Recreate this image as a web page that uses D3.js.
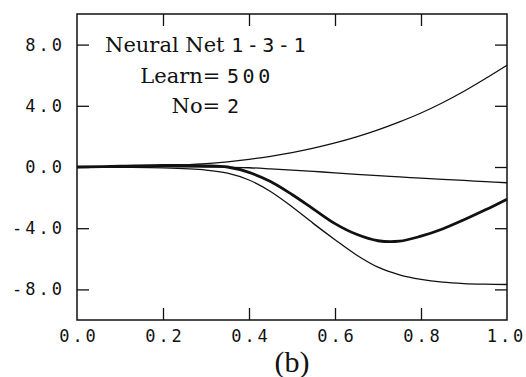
<!DOCTYPE html>
<html>
<head>
<meta charset="utf-8">
<script src="https://cdn.jsdelivr.net/npm/d3@7"></script>
<style>
  body { margin: 0; background: #fff; }
  .axis text { font-family: "DejaVu Sans Mono", monospace; font-size: 17px; letter-spacing: 3px; fill: #111; }
  .axis line { stroke: #111; stroke-width: 1.3; }
  .curve { fill: none; stroke: #111; }
</style>
</head>
<body>
<div id="chart"></div>
<script>
// sample points along x
var x_points      = [0, 0.1, 0.2, 0.3, 0.35, 0.4, 0.45, 0.5, 0.55, 0.6, 0.65, 0.7, 0.75, 0.8, 0.85, 0.9, 0.95, 1.0];
var upper_values  = [0, 0.02, 0.08, 0.22, 0.34, 0.5, 0.7, 0.94, 1.23, 1.57, 1.97, 2.43, 2.95, 3.53, 4.2, 4.95, 5.78, 6.65];
var middle_values = [0, 0.01, 0.02, 0, -0.02, -0.05, -0.12, -0.2, -0.29, -0.38, -0.48, -0.57, -0.65, -0.73, -0.81, -0.88, -0.96, -1.03];
var thick_values  = [0, 0.05, 0.1, 0.08, 0.0, -0.35, -0.95, -1.8, -2.75, -3.7, -4.4, -4.82, -4.85, -4.52, -4.05, -3.45, -2.8, -2.1];
var lower_values  = [0, -0.02, -0.06, -0.2, -0.4, -0.85, -1.6, -2.6, -3.7, -4.75, -5.75, -6.55, -7.05, -7.35, -7.53, -7.62, -7.66, -7.68];
var x_ticks       = [0, 0.2, 0.4, 0.6, 0.8, 1.0];
var y_ticks       = [-8, -4, 0, 4, 8];
var title_lines   = [["Neural Net ", "1-3-1"], ["Learn= ", "500"], ["No= ", "2"]];
var panel_label   = "(b)";

var width = 526, height = 377;
var margin = {top: 14, right: 19, bottom: 57, left: 77};
var plot_w = width - margin.left - margin.right;
var plot_h = height - margin.top - margin.bottom;

var x = d3.scaleLinear().domain([0, 1]).range([0, plot_w]);
var y = d3.scaleLinear().domain([-10, 10]).range([plot_h, 0]);

var fmt = function (d) { return d3.format(".1f")(d).replace("\u2212", "-"); };

var svg = d3.select("#chart").append("svg")
  .attr("width", width)
  .attr("height", height);

var g = svg.append("g")
  .attr("transform", "translate(" + margin.left + "," + margin.top + ")");

// inward ticks on all four sides
g.append("g").attr("class", "axis")
  .call(d3.axisLeft(y).tickValues(y_ticks).tickSize(-12).tickPadding(12).tickFormat(fmt));
g.append("g").attr("class", "axis")
  .attr("transform", "translate(" + plot_w + ",0)")
  .call(d3.axisRight(y).tickValues(y_ticks).tickSize(-12).tickFormat(""));
var bottom_axis = g.append("g").attr("class", "axis")
  .attr("transform", "translate(0," + plot_h + ")")
  .call(d3.axisBottom(x).tickValues(x_ticks).tickSize(-12).tickFormat(fmt));
g.append("g").attr("class", "axis")
  .call(d3.axisTop(x).tickValues(x_ticks.slice(1, -1)).tickSize(-12).tickFormat(""));

g.selectAll(".axis .domain").remove();
bottom_axis.selectAll(".tick line").filter(function (d) { return d === 0 || d === 1; }).remove();
bottom_axis.selectAll("text")
  .attr("y", 22)
  .attr("dy", null)
  .attr("dx", function (d) { return d === 1 ? "-1px" : "1.5px"; });

g.append("rect")
  .attr("width", plot_w)
  .attr("height", plot_h)
  .attr("fill", "none")
  .attr("stroke", "#111")
  .attr("stroke-width", 1.5);

var line = d3.line()
  .curve(d3.curveCatmullRom.alpha(0.5))
  .x(function (d, i) { return x(x_points[i]); })
  .y(function (d) { return y(d); });

[upper_values, middle_values, lower_values].forEach(function (vals) {
  g.append("path").attr("class", "curve").attr("stroke-width", 1.3).attr("d", line(vals));
});
g.append("path").attr("class", "curve").attr("stroke-width", 2.8).attr("d", line(thick_values));

// annotation block
var note = svg.append("text")
  .attr("text-anchor", "middle")
  .attr("fill", "#111");
title_lines.forEach(function (parts, i) {
  var t = note.append("tspan").attr("x", 207).attr("y", 52 + i * 30.5);
  t.append("tspan").attr("font-family", "DejaVu Serif").attr("font-size", "21px").text(parts[0]);
  t.append("tspan").attr("font-family", "DejaVu Sans Mono").attr("font-size", "20px")
    .attr("letter-spacing", "3.5px").text(parts[1]);
});

svg.append("text")
  .attr("x", margin.left + plot_w / 2)
  .attr("y", 372)
  .attr("text-anchor", "middle")
  .attr("font-family", "Liberation Serif")
  .attr("font-size", "30px")
  .attr("fill", "#111")
  .text(panel_label);
</script>
</body>
</html>
